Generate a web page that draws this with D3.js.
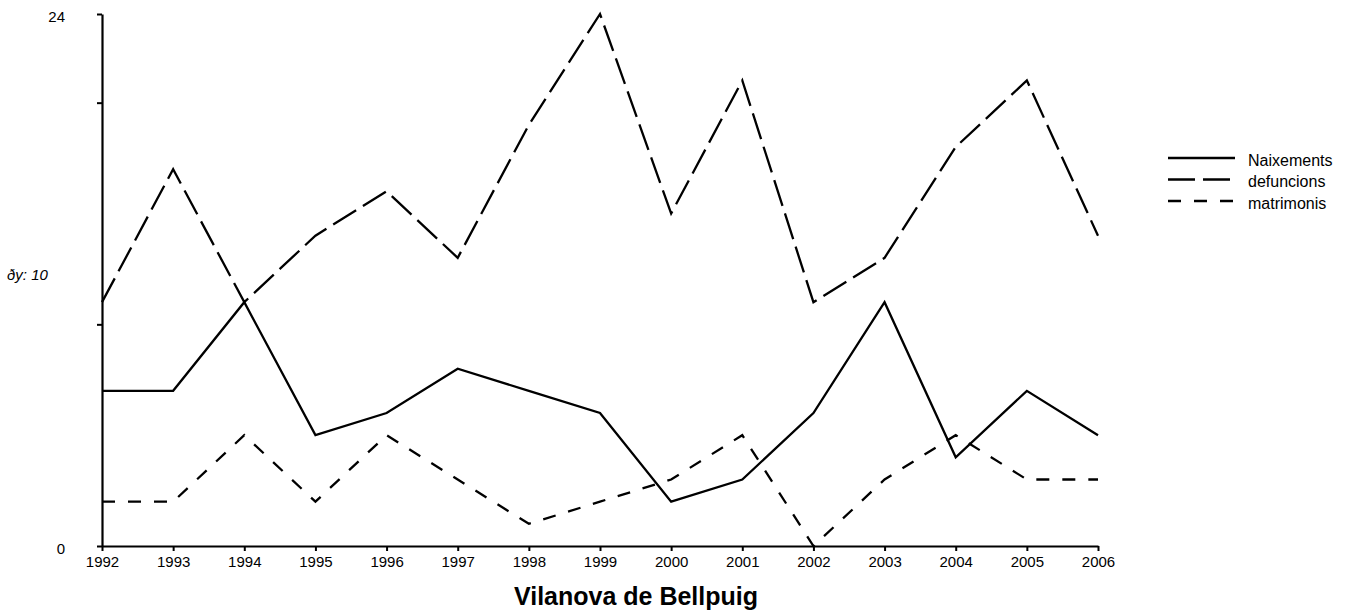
<!DOCTYPE html>
<html lang="en">
<head>
    <meta charset="UTF-8">
    <title>Vilanova de Bellpuig</title>
    <script src="https://cdnjs.cloudflare.com/ajax/libs/d3/7.8.5/d3.min.js"></script>
    <style>
        body {
            margin: 0;
            padding: 0;
            background-color: #ffffff;
            font-family: "Liberation Sans", Arial, sans-serif;
        }
    </style>
</head>
<body>
    <div id="chart"></div>

    <script>
        // Data
        const years = [1992, 1993, 1994, 1995, 1996, 1997, 1998, 1999, 2000, 2001, 2002, 2003, 2004, 2005, 2006];
        const naixements = [7, 7, 11, 5, 6, 8, 7, 6, 2, 3, 6, 11, 4, 7, 5];
        const defuncions = [11, 17, 11, 14, 16, 13, 19, 24, 15, 21, 11, 13, 18, 21, 14];
        const matrimonis = [2, 2, 5, 2, 5, 3, 1, 2, 3, 5, 0, 3, 5, 3, 3];
        const seriesNames = ["Naixements", "defuncions", "matrimonis"];
        const yTicks = [0, 10, 20, 24];
        const yLabels = [0, 24];

        const width = 1349;
        const height = 610;

        const svg = d3.select("#chart")
            .append("svg")
            .attr("width", width)
            .attr("height", height)
            .style("font-family", "Liberation Sans, Arial, sans-serif");

        const x = d3.scaleLinear().domain([1992, 2006]).range([102, 1098]);
        const y = d3.scaleLinear().domain([0, 24]).range([546, 14]);

        const series = [
            { name: seriesNames[0], values: naixements, dash: null },
            { name: seriesNames[1], values: defuncions, dash: "27,8" },
            { name: seriesNames[2], values: matrimonis, dash: "13,13" }
        ];

        // axes
        const xAxis = svg.append("g")
            .attr("transform", `translate(0,${y(0)})`)
            .call(d3.axisBottom(x).tickValues(years).tickFormat(d3.format("d")).tickSize(5).tickSizeOuter(0));
        xAxis.select(".domain").attr("stroke-width", 2.2);
        xAxis.selectAll(".tick line").attr("stroke-width", 2);
        xAxis.selectAll("text")
            .attr("font-family", "Liberation Sans, Arial, sans-serif")
            .attr("font-size", 15)
            .attr("fill", "#000")
            .attr("y", 9)
            .attr("dy", "0.8em");

        const yAxis = svg.append("g")
            .attr("transform", `translate(${x(1992)},0)`)
            .call(d3.axisLeft(y).tickValues(yTicks).tickFormat("").tickSize(5).tickSizeOuter(0));
        yAxis.select(".domain").attr("stroke-width", 2.2);
        yAxis.selectAll(".tick line").attr("stroke-width", 2);

        svg.append("g")
            .selectAll("text")
            .data(yLabels)
            .join("text")
            .attr("x", 65)
            .attr("y", d => y(d) + 3)
            .attr("dy", "0.35em")
            .attr("text-anchor", "end")
            .attr("font-size", 15)
            .text(d => d);

        svg.append("text")
            .attr("x", 7)
            .attr("y", 280)
            .attr("font-size", 15)
            .attr("font-style", "italic")
            .text("ðy: 10");

        // lines
        const line = d3.line()
            .x((d, i) => x(years[i]))
            .y(d => y(d));

        svg.append("g")
            .selectAll("path")
            .data(series)
            .join("path")
            .attr("d", d => line(d.values))
            .attr("fill", "none")
            .attr("stroke", "#000")
            .attr("stroke-width", 2.3)
            .attr("stroke-dasharray", d => d.dash);

        // legend
        const legend = svg.append("g")
            .selectAll("g")
            .data(series)
            .join("g")
            .attr("transform", (d, i) => `translate(1168,${158 + i * 21.5})`);

        legend.append("line")
            .attr("x1", 0)
            .attr("x2", 67)
            .attr("stroke", "#000")
            .attr("stroke-width", 2.3)
            .attr("stroke-dasharray", d => d.dash);

        legend.append("text")
            .attr("x", 80)
            .attr("y", 2)
            .attr("dy", "0.35em")
            .attr("font-size", 16)
            .text(d => d.name);

        // title
        svg.append("text")
            .attr("x", 636)
            .attr("y", 605)
            .attr("text-anchor", "middle")
            .attr("font-size", 25)
            .attr("font-weight", "bold")
            .text("Vilanova de Bellpuig");
    </script>
</body>
</html>
